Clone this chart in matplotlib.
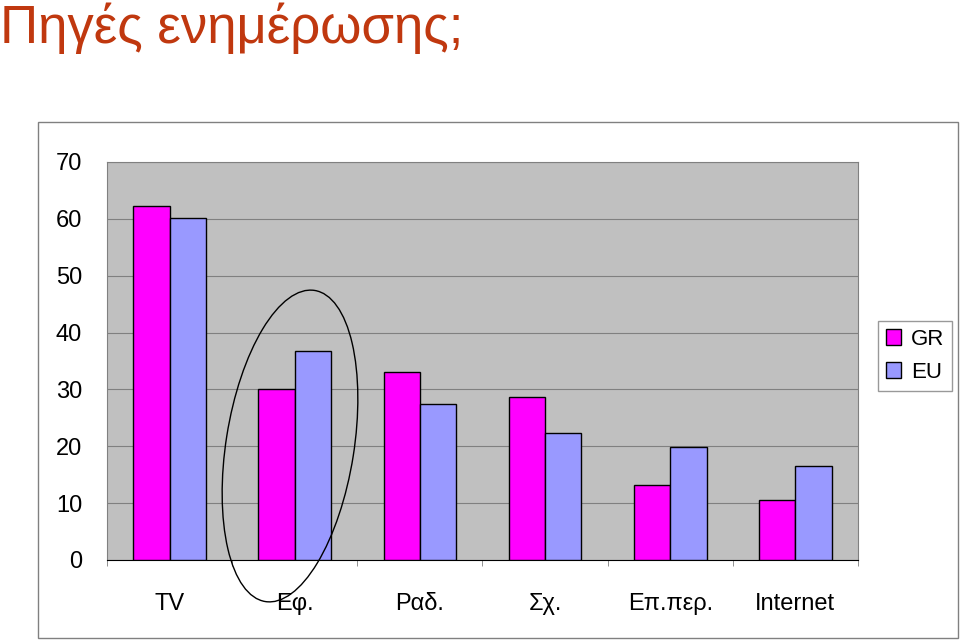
import matplotlib
matplotlib.use("Agg")
import matplotlib.pyplot as plt
import numpy as np
from matplotlib.patches import Ellipse, Rectangle
from matplotlib.transforms import IdentityTransform

categories = ["TV", "Εφ.", "Ραδ.", "Σχ.", "Επ.περ.", "Internet"]
gr = [62.3, 30.1, 33.1, 28.7, 13.2, 10.6]
eu = [60.1, 36.8, 27.4, 22.3, 19.9, 16.5]
yticks = [0, 10, 20, 30, 40, 50, 60, 70]

plt.rcParams['font.family'] = ['Liberation Sans', 'DejaVu Sans']
fig = plt.figure(figsize=(9.6, 6.42), dpi=100)
fig.patch.set_facecolor('white')

fig.patches.append(Rectangle((38/960, 4/642), 920/960, 516/642, transform=fig.transFigure,
                             fill=False, edgecolor='#808080', lw=1))
fig.text(0/960, 1 - 28/642, "Πηγές ενημέρωσης;", color='#C0380F', fontsize=38, va='center', ha='left')

ax = fig.add_axes([107/960, 82/642, 751/960, 398/642])
ax.set_facecolor('#C0C0C0')
x = np.arange(len(categories))
w = 0.29
ax.bar(x - w/2, gr, w, color='#FF00FF', edgecolor='black', lw=1, label='GR', zorder=3)
ax.bar(x + w/2, eu, w, color='#9999FF', edgecolor='black', lw=1, label='EU', zorder=3)
ax.set_xlim(-0.5, len(categories) - 0.5)
ax.set_ylim(0, 70)
ax.set_yticks(yticks)
ax.set_yticklabels([str(v) for v in yticks], fontsize=17)
ax.yaxis.grid(True, color='#808080', lw=0.8, zorder=0)
ax.set_xticks(x)
ax.set_xticklabels(categories, fontsize=17)
ax.set_xticks(np.arange(len(categories) + 1) - 0.5, minor=True)
ax.tick_params(axis='x', which='major', length=0, pad=24)
ax.tick_params(axis='x', which='minor', length=4, color='#808080')
ax.tick_params(axis='y', length=0, pad=18)
for s in ['top', 'right', 'left']:
    ax.spines[s].set_color('#808080')
ax.spines['bottom'].set_color('black')

leg = fig.legend(loc='upper left', bbox_to_anchor=(878/960, 1 - 321/642), fontsize=16,
                 frameon=True, fancybox=False, edgecolor='#808080', handlelength=0.7,
                 handleheight=0.7, borderpad=0.35, labelspacing=0.55, handletextpad=0.45,
                 borderaxespad=0)

e = Ellipse((290, 642 - 446), 315, 128, angle=81, fill=False, edgecolor='black', lw=1,
            transform=IdentityTransform())
fig.patches.append(e)

fig.savefig("out.png", dpi=100)
